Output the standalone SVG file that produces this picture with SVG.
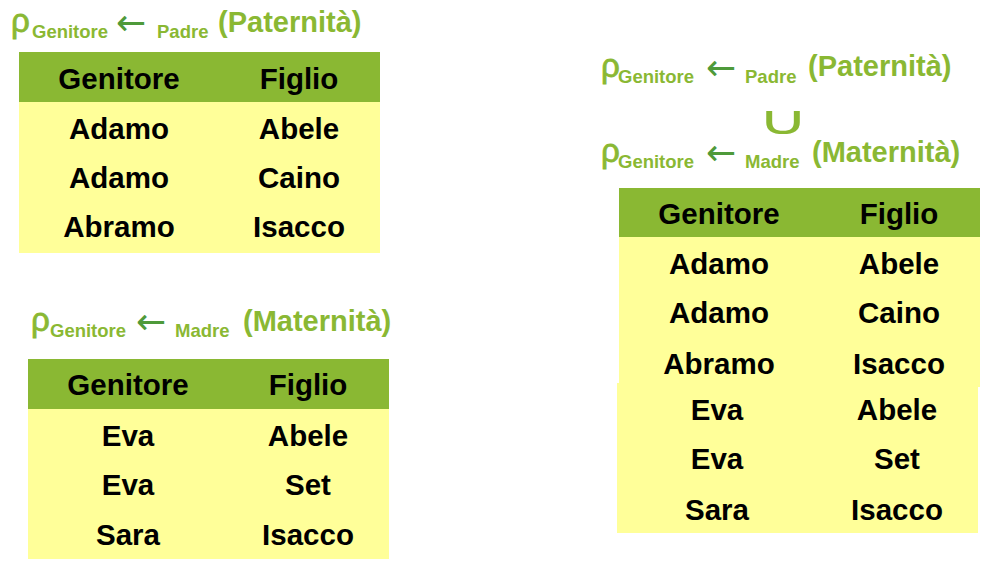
<svg xmlns="http://www.w3.org/2000/svg" width="1001" height="582" viewBox="0 0 1001 582">
<style>
.hdr{fill:#8AB833}
.body{fill:#FFFF99}
.cell{font-family:"Liberation Sans",Arial,sans-serif;font-weight:bold;font-size:29.5px;fill:#000;text-anchor:middle}
.rho{font-family:"Liberation Sans",Arial,sans-serif;font-size:33px;fill:#8AB833;stroke:#8AB833;stroke-width:0.8px}
.sub{font-family:"Liberation Sans",Arial,sans-serif;font-weight:bold;font-size:18.5px;fill:#8AB833}
.big{font-family:"Liberation Sans",Arial,sans-serif;font-weight:bold;font-size:29px;fill:#8AB833}
.arr{font-family:"DejaVu Sans",sans-serif;font-size:36px;fill:#4E9A3A}
.uni{font-family:"DejaVu Sans",sans-serif;font-size:44px;fill:#8AB833;text-anchor:middle}
</style>
<rect width="1001" height="582" fill="#FFFFFF"/>

<g id="label-paternita-left">
<text class="rho" x="11" y="32">ρ</text>
<text class="sub" x="32" y="38">Genitore</text>
<text class="arr" x="116" y="35">←</text>
<text class="sub" x="157" y="38">Padre</text>
<text class="big" x="218" y="32">(Paternità)</text>
</g>

<g id="table-paternita">
<rect class="hdr" x="19" y="52" width="361" height="50"/>
<rect class="body" x="19" y="102" width="361" height="151"/>
<text class="cell" x="119" y="89">Genitore</text>
<text class="cell" x="299" y="89">Figlio</text>
<text class="cell" x="119" y="139">Adamo</text>
<text class="cell" x="299" y="139">Abele</text>
<text class="cell" x="119" y="188">Adamo</text>
<text class="cell" x="299" y="188">Caino</text>
<text class="cell" x="119" y="237">Abramo</text>
<text class="cell" x="299" y="237">Isacco</text>
</g>

<g id="label-maternita-left">
<text class="rho" x="31" y="331">ρ</text>
<text class="sub" x="50" y="337">Genitore</text>
<text class="arr" x="136" y="334">←</text>
<text class="sub" x="175" y="337">Madre</text>
<text class="big" x="243" y="331">(Maternità)</text>
</g>

<g id="table-maternita">
<rect class="hdr" x="28" y="359" width="361" height="50"/>
<rect class="body" x="28" y="409" width="361" height="150"/>
<text class="cell" x="128" y="395">Genitore</text>
<text class="cell" x="308" y="395">Figlio</text>
<text class="cell" x="128" y="446">Eva</text>
<text class="cell" x="308" y="446">Abele</text>
<text class="cell" x="128" y="495">Eva</text>
<text class="cell" x="308" y="495">Set</text>
<text class="cell" x="128" y="545">Sara</text>
<text class="cell" x="308" y="545">Isacco</text>
</g>

<g id="label-union">
<text class="rho" x="601" y="77">ρ</text>
<text class="sub" x="618" y="83">Genitore</text>
<text class="arr" x="706" y="80">←</text>
<text class="sub" x="745" y="83">Padre</text>
<text class="big" x="808" y="76">(Paternità)</text>
<text class="uni" transform="translate(783,134) scale(1.6,0.9)" x="0" y="0">∪</text>
<text class="rho" x="601" y="162">ρ</text>
<text class="sub" x="618" y="168">Genitore</text>
<text class="arr" x="706" y="165">←</text>
<text class="sub" x="745" y="168">Madre</text>
<text class="big" x="812" y="162">(Maternità)</text>
</g>

<g id="table-union">
<rect class="hdr" x="619" y="188" width="361" height="49"/>
<rect class="body" x="619" y="237" width="361" height="150"/>
<rect class="body" x="617" y="383" width="361" height="150"/>
<text class="cell" x="719" y="224">Genitore</text>
<text class="cell" x="899" y="224">Figlio</text>
<text class="cell" x="719" y="274">Adamo</text>
<text class="cell" x="899" y="274">Abele</text>
<text class="cell" x="719" y="323">Adamo</text>
<text class="cell" x="899" y="323">Caino</text>
<text class="cell" x="719" y="374">Abramo</text>
<text class="cell" x="899" y="374">Isacco</text>
<text class="cell" x="717" y="420">Eva</text>
<text class="cell" x="897" y="420">Abele</text>
<text class="cell" x="717" y="469">Eva</text>
<text class="cell" x="897" y="469">Set</text>
<text class="cell" x="717" y="520">Sara</text>
<text class="cell" x="897" y="520">Isacco</text>
</g>
</svg>
